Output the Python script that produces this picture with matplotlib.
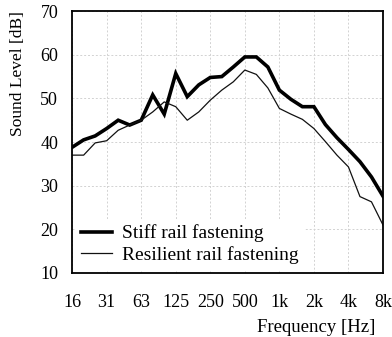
import numpy as np
import matplotlib
matplotlib.use("Agg")
import matplotlib.pyplot as plt

plt.rcParams["font.family"] = ["Liberation Serif", "DejaVu Serif"]

# 1/3-octave bands from 16 Hz to 8 kHz
band_steps = list(range(28))
stiff_db = [38.8, 40.5, 41.4, 43.1, 45.0, 43.9, 45.0, 50.8, 46.4, 55.7,
            50.4, 53.1, 54.8, 55.0, 57.2, 59.5, 59.5, 57.2, 51.9, 49.8,
            48.1, 48.1, 44.0, 41.0, 38.3, 35.5, 32.0, 27.6]
resilient_db = [37.0, 37.0, 39.8, 40.3, 42.7, 43.9, 45.0, 46.9, 49.2, 48.1,
                45.0, 46.9, 49.6, 51.9, 53.8, 56.5, 55.5, 52.4, 47.7, 46.4,
                45.2, 43.1, 40.1, 37.0, 34.3, 27.5, 26.3, 21.0]
tick_labels = ["16", "31", "63", "125", "250", "500", "1k", "2k", "4k", "8k"]
y_ticks = [10, 20, 30, 40, 50, 60, 70]

freqs = 16 * 2 ** (np.array(band_steps) / 3)
tick_freqs = 16 * 2 ** np.arange(len(tick_labels))

fig = plt.figure(figsize=(3.92, 3.37), dpi=100)
ax = fig.add_axes([0.184, 0.19, 0.793, 0.777])

ax.plot(freqs, stiff_db, color="black", lw=2.6, label="Stiff rail fastening",
        solid_joinstyle="miter")
ax.plot(freqs, resilient_db, color="#111111", lw=0.9,
        label="Resilient rail fastening")

ax.set_xscale("log")
ax.set_xlim(tick_freqs[0], tick_freqs[-1])
ax.set_ylim(10, 70)
ax.set_xticks(tick_freqs)
ax.set_xticklabels(tick_labels)
ax.xaxis.set_minor_locator(matplotlib.ticker.NullLocator())
ax.set_yticks(y_ticks)
ax.tick_params(axis="both", length=0, labelsize=13)
ax.tick_params(axis="x", pad=15)
ax.tick_params(axis="y", pad=10)

ax.grid(True, color="#d2d2d2", lw=0.7, ls=(0, (2, 2)))
for s in ax.spines.values():
    s.set_linewidth(1.3)

ax.set_ylabel("Sound Level [dB]", loc="top", fontsize=12.5, labelpad=10)

fig.text(0.957, 0.028, "Frequency [Hz]", fontsize=13.5, ha="right", va="center")

leg = ax.legend(loc="lower left", fontsize=14, frameon=True, fancybox=False,
                handlelength=1.6, handletextpad=0.5, borderaxespad=0.15,
                borderpad=0.3, labelspacing=0.2)
leg.get_frame().set_edgecolor("none")
leg.get_frame().set_facecolor("white")
leg.get_frame().set_alpha(1.0)

fig.savefig("out.png", dpi=100)
